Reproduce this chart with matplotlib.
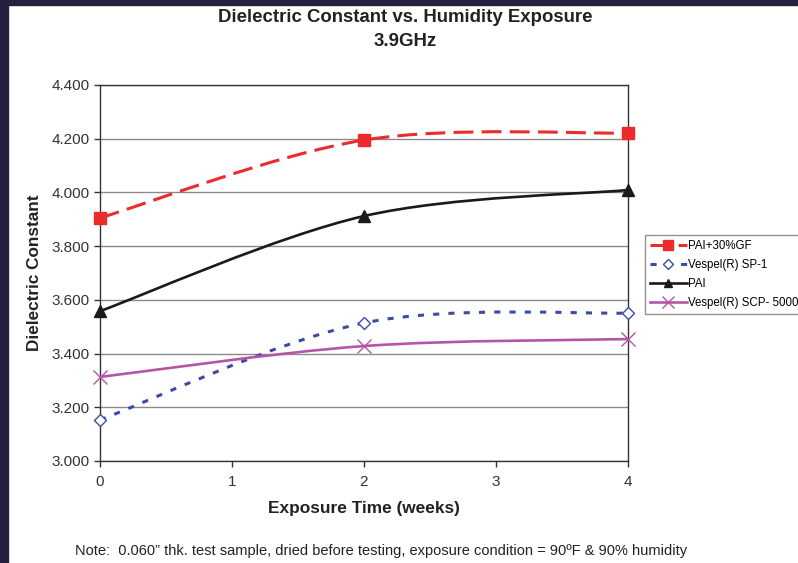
import matplotlib
matplotlib.use("Agg")
import matplotlib.pyplot as plt
from matplotlib.path import Path
from matplotlib.patches import PathPatch, Rectangle
from matplotlib.lines import Line2D

plt.rcParams['font.family'] = ['Liberation Sans', 'DejaVu Sans']

# measured points (weeks, dielectric constant)
weeks = [0, 2, 4]
pai_gf = [3.905, 4.195, 4.221]
vespel_sp1 = [3.153, 3.514, 3.551]
pai = [3.558, 3.912, 4.009]
vespel_scp = [3.313, 3.428, 3.454]

names = ['PAI+30%GF', 'Vespel(R) SP-1', 'PAI', 'Vespel(R) SCP- 5000']
series = [pai_gf, vespel_sp1, pai, vespel_scp]
colors = ['#EE2B2B', '#3A4AA8', '#1A1A1A', '#B456A8']
dashes = [(6.5, 2.7), (2, 3), None, None]
widths = [2.2, 2.2, 1.9, 1.9]
markers = ['s', 'D', '^', 'x']
msizes = [9, 6.5, 8, 10]
mfaces = ['#EE2B2B', 'white', '#1A1A1A', '#B456A8']


def smooth_path(xs, ys):
    # Excel style smoothed line: cubic bezier segments through the points
    pts = list(zip(xs, ys))
    n = len(pts)
    verts = [pts[0]]
    codes = [Path.MOVETO]
    for i in range(n - 1):
        p0 = pts[max(i - 1, 0)]
        p1 = pts[i]
        p2 = pts[i + 1]
        p3 = pts[min(i + 2, n - 1)]
        c1 = (p1[0] + (p2[0] - p0[0]) / 6, p1[1] + (p2[1] - p0[1]) / 6)
        c2 = (p2[0] - (p3[0] - p1[0]) / 6, p2[1] - (p3[1] - p1[1]) / 6)
        verts += [c1, c2, p2]
        codes += [Path.CURVE4] * 3
    return Path(verts, codes)


fig = plt.figure(figsize=(7.98, 5.63), dpi=100)
ax = fig.add_axes([100 / 798, 1 - 461 / 563, 528 / 798, 376 / 563])

handles = []
for name, vals, col, ds, lw, mk, ms, mf in zip(names, series, colors, dashes, widths,
                                                markers, msizes, mfaces):
    patch = PathPatch(smooth_path(weeks, vals), fill=False, edgecolor=col, lw=lw,
                      capstyle='butt', zorder=3)
    if ds is not None:
        patch.set_linestyle((0, ds))
    ax.add_patch(patch)
    ax.plot(weeks, vals, linestyle='none', marker=mk, markersize=ms, color=col,
            markerfacecolor=mf, markeredgewidth=1.0, zorder=4, clip_on=False)
    h = Line2D([], [], color=col, lw=lw, marker=mk, markersize=ms * 0.8,
               markerfacecolor=mf, markeredgewidth=1.0)
    if ds is not None:
        h.set_dashes(ds)
    handles.append(h)

ax.set_xlim(0, 4)
ax.set_ylim(3.0, 4.4)
ax.set_xticks([0, 1, 2, 3, 4])
ax.set_yticks([3.0, 3.2, 3.4, 3.6, 3.8, 4.0, 4.2, 4.4])
ax.set_yticklabels(['%.3f' % v for v in ax.get_yticks()])
ax.grid(axis='y', color='#8A8A8A', lw=1)
ax.set_axisbelow(True)
for sp in ax.spines.values():
    sp.set_color('#333333')
    sp.set_linewidth(1)
ax.tick_params(labelsize=11, colors='#333333', length=4, width=1)
ax.tick_params(axis='x', pad=6)

ax.set_xlabel('Exposure Time (weeks)', fontsize=12.4, fontweight='bold', color='#222222')
ax.xaxis.set_label_coords(0.5, -(501 - 461) / 376)
ax.set_ylabel('Dielectric Constant', fontsize=12.3, fontweight='bold', color='#222222')
ax.yaxis.set_label_coords((42 - 100) / 528, 0.5)

fig.text(405 / 798, 1 - 18 / 563, 'Dielectric Constant vs. Humidity Exposure', ha='center', va='center',
         fontsize=13.4, fontweight='bold', color='#222222')
fig.text(405 / 798, 1 - 41 / 563, '3.9GHz', ha='center', va='center',
         fontsize=13.4, fontweight='bold', color='#222222')

fig.text(75 / 798, 1 - 551 / 563,
         'Note:  0.060\u201d thk. test sample, dried before testing, exposure condition = 90\u00baF & 90% humidity',
         ha='left', va='center', fontsize=10.5, color='#222222')

leg = fig.legend(handles, names, loc='upper left', bbox_to_anchor=(645 / 798, 1 - 235 / 563),
                 fontsize=8.3, frameon=True, fancybox=False, edgecolor='#777777',
                 handlelength=3.2, handletextpad=0.1, labelspacing=0.62, borderpad=0.4,
                 borderaxespad=0)
leg.get_frame().set_linewidth(1)

# dark frame at top and left edges
fig.patches.append(Rectangle((0, 1 - 5 / 563), 1, 5 / 563, transform=fig.transFigure,
                             color='#241F3C', zorder=10))
fig.patches.append(Rectangle((0, 0), 8 / 798, 1, transform=fig.transFigure,
                             color='#241F3C', zorder=10))

fig.savefig('out.png', dpi=100)
